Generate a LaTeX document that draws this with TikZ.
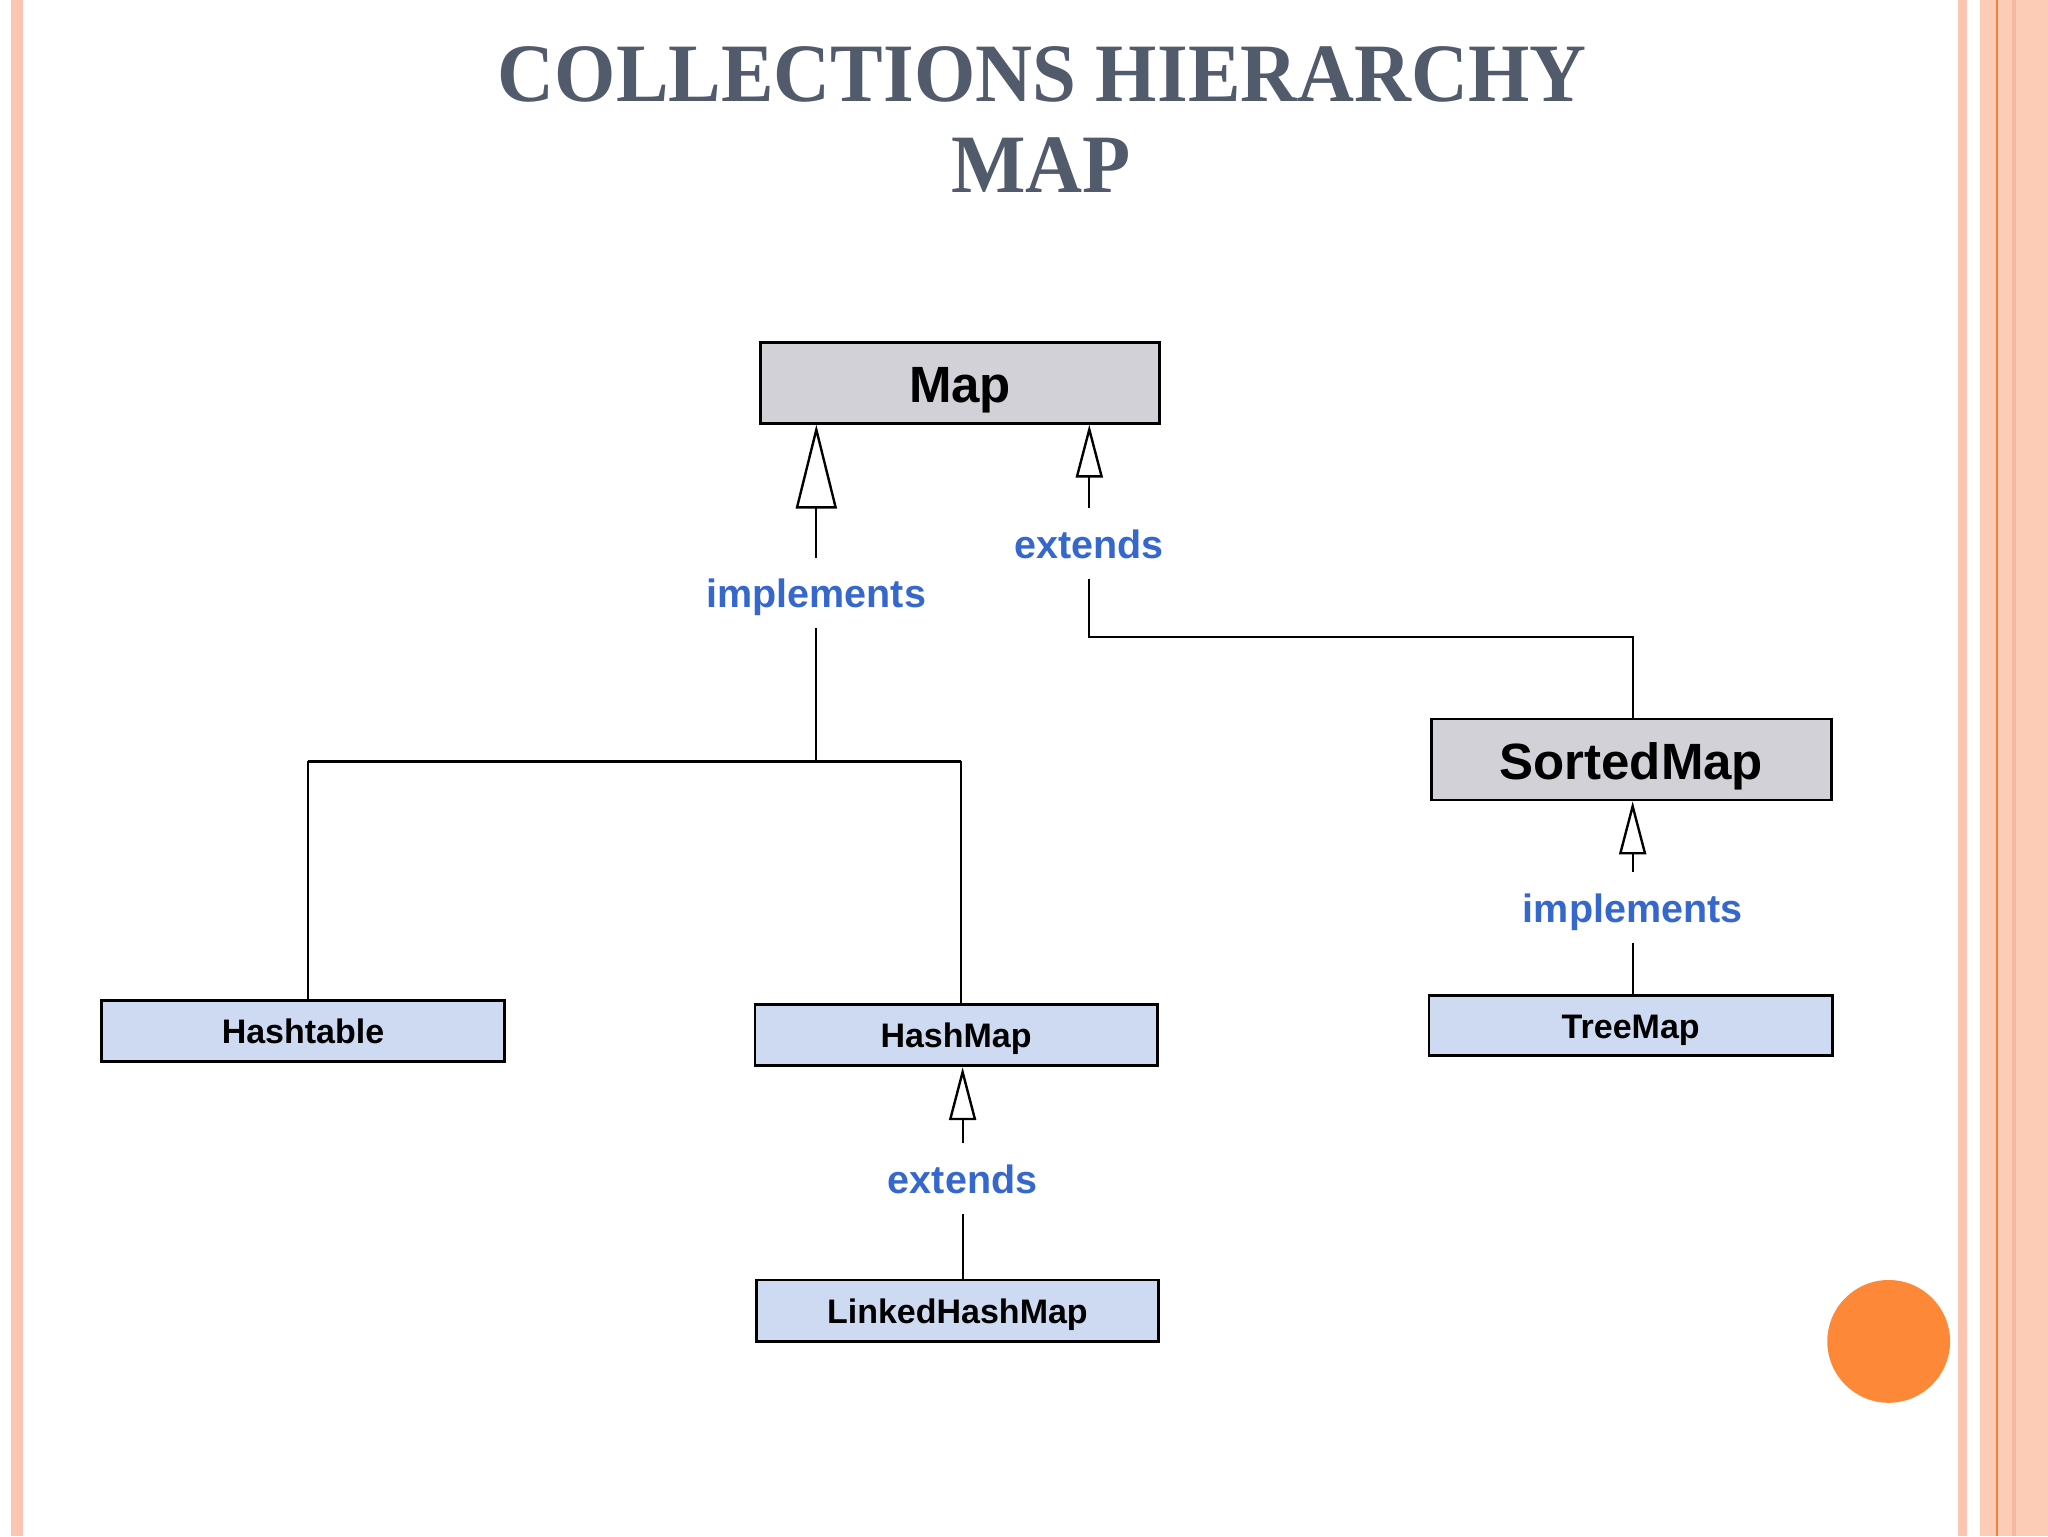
\documentclass[tikz,border=0pt]{standalone}
\usepackage{fontspec}
\setmainfont{Liberation Sans}
\newfontfamily\titlefont[FakeStretch=0.95]{Liberation Serif}
\usetikzlibrary{arrows.meta}
\definecolor{grayfill}{RGB}{209,209,215}
\definecolor{bluefill}{RGB}{205,218,241}
\definecolor{lblue}{RGB}{53,103,204}
\definecolor{titlec}{RGB}{82,91,107}
\definecolor{peach}{RGB}{251,197,177}
\definecolor{peachb}{RGB}{252,204,183}
\definecolor{peachd}{RGB}{246,184,160}
\definecolor{orline}{RGB}{240,130,66}
\definecolor{dotc}{RGB}{253,136,56}
\def\pxu{1.3061pt}
\tikzset{
 ubox/.style={draw=black, line width=2.8pt, inner sep=0pt, text depth=0pt},
 bigbox/.style={ubox, fill=grayfill, font=\bfseries\fontsize{51}{51}\selectfont, text height=40.5pt, minimum width=306*\pxu, minimum height=62*\pxu},
 smallbox/.style={ubox, fill=bluefill, font=\bfseries\fontsize{34}{34}\selectfont, text height=25.5pt, minimum width=308*\pxu, minimum height=47*\pxu},
 lbl/.style={font=\bfseries\fontsize{39.5}{39.5}\selectfont, text=lblue, inner sep=0pt, text height=30pt, text depth=0pt, minimum height=54*\pxu},
 conn/.style={line width=2.2pt},
 bigtri/.style={conn, -{Triangle[open, length=84pt, width=41pt, line width=2.4pt]}},
 smalltri/.style={conn, -{Triangle[open, length=53pt, width=27pt, line width=2.4pt]}},
 ttl/.style={anchor=base, text=titlec, inner sep=0pt, font=\titlefont\bfseries\fontsize{83}{83}\selectfont},
}
\begin{document}
\begin{tikzpicture}[x=1.3061pt, y=-1.3061pt]
\useasboundingbox (0,0) rectangle (1568,1176);
\fill[white] (0,0) rectangle (1568,1176);
% borders
\fill[peach] (8.4,0) rectangle (17.6,1176);
\fill[peach] (1499,0) rectangle (1506,1176);
\fill[peachb] (1516,0) rectangle (1568,1176);
\fill[peachd] (1540.5,0) rectangle (1543.5,1176);
\fill[orline] (1528.4,0) rectangle (1530,1176);
\node[circle, fill=dotc, minimum size=94*\pxu, inner sep=0pt] (dot) at (1446,1027) {};
% title
\node[ttl] (t1) at (798,77.5) {COLLECTIONS HIERARCHY};
\node[ttl] (t2) at (797,147) {MAP};
% boxes
\node[bigbox] (map) at (735,293) {Map};
\node[bigbox] (sorted) at (1249,581.5) {SortedMap};
\node[smallbox] (hashtable) at (232,789.5) {Hashtable};
\node[smallbox] (hashmap) at (732,792.5) {HashMap};
\node[smallbox] (linked) at (733,1003.5) {LinkedHashMap};
\node[smallbox, minimum height=46*\pxu, minimum width=309*\pxu] (treemap) at (1248.5,785) {TreeMap};
% labels
\node[lbl] (limpl1) at (625,454) {implements};
\node[lbl] (lext1) at (834,416) {extends};
\node[lbl] (lext2) at (737,902.5) {extends};
\node[lbl] (limpl2) at (1250,695) {implements};
% junctions
\coordinate (j1) at (625,583);
\coordinate (jl) at (236,583);
\coordinate (jr) at (736,583);
\coordinate (j2) at (1250,488);
% connectors
\draw[bigtri] (limpl1.north) -- (limpl1.north |- map.south);
\draw[conn] (limpl1.south) -- (j1);
\draw[conn] (jl) -- (jr);
\draw[conn] (jl) -- (jl |- hashtable.north);
\draw[conn] (jr) -- (jr |- hashmap.north);
\draw[smalltri] (lext1.north) -- (lext1.north |- map.south);
\draw[conn] (lext1.south) |- (j2) -- (j2 |- sorted.north);
\draw[smalltri] (limpl2.north) -- (limpl2.north |- sorted.south);
\draw[conn] (limpl2.south) -- (limpl2.south |- treemap.north);
\draw[smalltri] (lext2.north) -- (lext2.north |- hashmap.south);
\draw[conn] (lext2.south) -- (lext2.south |- linked.north);
\end{tikzpicture}
\end{document}
